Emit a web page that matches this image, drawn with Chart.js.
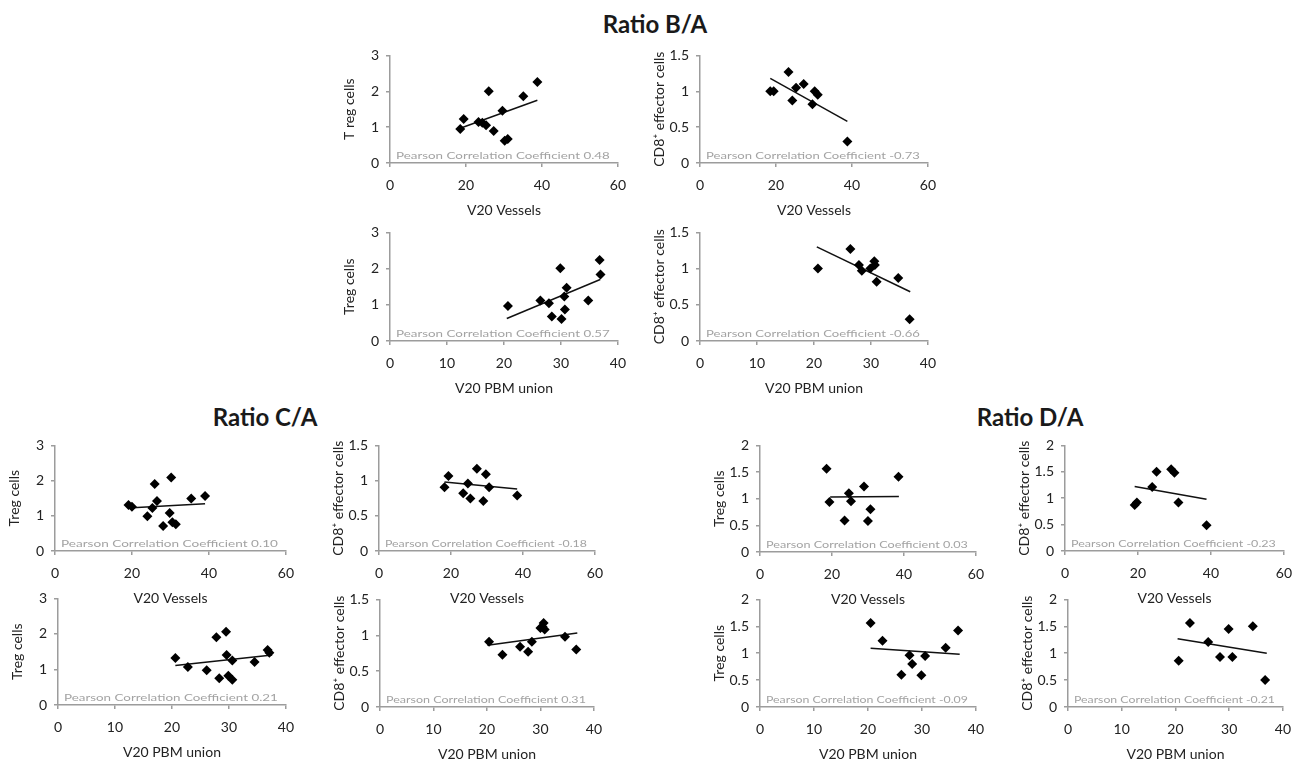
<!DOCTYPE html>
<html>
<head>
<meta charset="utf-8">
<script src="https://cdn.jsdelivr.net/npm/chart.js@4.4.1/dist/chart.umd.min.js"></script>
<style>
  body { margin: 0; background: #fff; width: 1307px; height: 762px; position: relative; overflow: hidden; }
  canvas { position: absolute; }
  .ttl { position: absolute; font: bold 24px Lato, sans-serif; color: #1a1a1a; transform: translate(-50%, -50%); white-space: nowrap; }
</style>
</head>
<body>
<div class="ttl" style="left:655px;top:23px">Ratio B/A</div>
<div class="ttl" style="left:265px;top:416px">Ratio C/A</div>
<div class="ttl" style="left:1030px;top:416px">Ratio D/A</div>
<script>
// axis ticks
const vesselTicks = [0, 20, 40, 60];
const pbmTicks = [0, 10, 20, 30, 40];
const treg3Ticks = [0, 1, 2, 3];
const treg3Labels = ['0', '1', '2', '3'];
const cd8Ticks = [0, 0.5, 1, 1.5];
const cd8Labels = ['0', '0.5', '1', '1.5'];
const d2Ticks = [0, 0.5, 1, 1.5, 2];
const d2Labels = ['0', '0.5', '1', '1.5', '2'];

// Ratio B/A
const baTregVesX = [18.5, 19.4, 23.3, 24.3, 25.3, 26.0, 27.3, 29.6, 30.2, 31.0, 35.1, 38.8];
const baTregVesY = [0.95, 1.23, 1.14, 1.12, 1.05, 2.0, 0.89, 1.46, 0.62, 0.67, 1.86, 2.26];
const baTregVesFit = [18.5, 0.97, 38.8, 1.75];
const baCd8VesX = [18.5, 19.4, 23.3, 24.3, 25.3, 27.3, 29.6, 30.2, 31.0, 38.8];
const baCd8VesY = [1.0, 1.0, 1.27, 0.87, 1.05, 1.1, 0.82, 1.0, 0.95, 0.3];
const baCd8VesFit = [18.5, 1.18, 38.8, 0.58];
const baTregPbmX = [20.7, 26.4, 27.9, 28.4, 29.9, 30.1, 30.6, 30.7, 31.0, 34.8, 36.8, 36.95];
const baTregPbmY = [0.97, 1.12, 1.04, 0.68, 2.01, 0.61, 1.23, 0.87, 1.47, 1.12, 2.24, 1.84];
const baTregPbmFit = [20.5, 0.62, 36.9, 1.7];
const baCd8PbmX = [20.7, 26.4, 27.9, 28.4, 29.9, 30.6, 30.7, 31.0, 34.8, 36.8];
const baCd8PbmY = [1.0, 1.27, 1.05, 0.97, 1.0, 1.1, 1.05, 0.82, 0.87, 0.3];
const baCd8PbmFit = [20.5, 1.3, 36.9, 0.68];

// Ratio C/A
const caTregVesX = [19.1, 20.0, 24.0, 25.3, 25.9, 26.5, 28.1, 29.8, 30.2, 30.5, 31.4, 35.4, 39.0];
const caTregVesY = [1.31, 1.26, 0.99, 1.22, 1.9, 1.42, 0.71, 1.08, 2.09, 0.82, 0.76, 1.49, 1.56];
const caTregVesFit = [19, 1.22, 39, 1.34];
const caCd8VesX = [18.2, 19.3, 23.4, 24.7, 25.4, 27.2, 29.0, 29.7, 30.6, 38.4];
const caCd8VesY = [0.905, 1.065, 0.82, 0.96, 0.745, 1.17, 0.71, 1.09, 0.905, 0.79];
const caCd8VesFit = [18.2, 0.98, 38.4, 0.88];
const caTregPbmX = [20.6, 22.8, 26.1, 27.8, 28.3, 29.5, 29.6, 29.9, 30.6, 30.6, 34.5, 36.8, 37.1];
const caTregPbmY = [1.32, 1.07, 0.98, 1.91, 0.75, 2.06, 1.41, 0.82, 0.71, 1.25, 1.21, 1.55, 1.47];
const caTregPbmFit = [20.6, 1.11, 37.6, 1.41];
const caCd8PbmX = [20.4, 22.9, 26.2, 27.7, 28.4, 30.0, 30.4, 30.6, 30.8, 34.6, 36.7];
const caCd8PbmY = [0.91, 0.73, 0.84, 0.77, 0.91, 1.10, 1.12, 1.17, 1.08, 0.98, 0.80];
const caCd8PbmFit = [20.1, 0.86, 36.9, 1.03];

// Ratio D/A
const daTregVesX = [18.5, 19.3, 23.5, 24.7, 25.3, 28.9, 30.0, 30.7, 38.5];
const daTregVesY = [1.56, 0.94, 0.59, 1.10, 0.95, 1.23, 0.58, 0.80, 1.41];
const daTregVesFit = [19.5, 1.03, 38.6, 1.04];
const daCd8VesX = [19.1, 19.7, 23.9, 25.1, 29.1, 30.0, 31.1, 38.8];
const daCd8VesY = [0.87, 0.92, 1.21, 1.50, 1.55, 1.48, 0.92, 0.49];
const daCd8VesFit = [19.1, 1.22, 38.8, 0.98];
const daTregPbmX = [20.5, 22.7, 26.2, 27.7, 28.2, 29.9, 30.6, 34.4, 36.7];
const daTregPbmY = [1.56, 1.23, 0.60, 0.96, 0.80, 0.59, 0.95, 1.10, 1.42];
const daTregPbmFit = [20.5, 1.09, 37.0, 0.98];
const daCd8PbmX = [20.6, 22.7, 26.1, 28.3, 29.9, 30.6, 34.4, 36.7];
const daCd8PbmY = [0.86, 1.56, 1.21, 0.93, 1.45, 0.93, 1.50, 0.50];
const daCd8PbmFit = [20.4, 1.27, 37.0, 1.0];

const axisGrey = '#9c9c9c';
const textDark = '#222';

const pearsonLabel = {
  id: 'pearson',
  beforeDatasetsDraw(chart, args, opts) {
    const { ctx, chartArea: a } = chart;
    ctx.save();
    ctx.font = '10px Lato, sans-serif';
    ctx.fillStyle = '#a3a3a3';
    ctx.textBaseline = 'middle';
    const w = ctx.measureText(opts.text).width;
    const target = a.right - a.left - 14;
    ctx.translate(a.left + 6, a.bottom - 7);
    ctx.scale(target / w, 1);
    ctx.fillText(opts.text, 0, 0);
    ctx.restore();
  }
};

function panel(box, xs, ys, fit, xTicks, yTicks, yLabels, xTitle, yTitle, r) {
  const [L, T, R, B] = box;
  const cv = document.createElement('canvas');
  cv.width = R - L + 55 + 14;
  cv.height = B - T + 12 + 56;
  cv.style.left = (L - 55) + 'px';
  cv.style.top = (T - 12) + 'px';
  document.body.appendChild(cv);

  const axisFont = { family: 'Lato, sans-serif', size: 14 };
  const titleFont = { family: 'Lato, sans-serif', size: 14 };

  new Chart(cv, {
    type: 'scatter',
    data: {
      datasets: [
        {
          data: xs.map((v, i) => ({ x: v, y: ys[i] })),
          pointStyle: 'rectRot',
          radius: 5,
          backgroundColor: '#000',
          borderWidth: 0
        },
        {
          type: 'line',
          data: [{ x: fit[0], y: fit[1] }, { x: fit[2], y: fit[3] }],
          borderColor: '#111',
          borderWidth: 1.5,
          pointRadius: 0
        }
      ]
    },
    options: {
      responsive: false,
      animation: false,
      devicePixelRatio: 1,
      layout: { padding: { top: 12, right: 14, left: 0, bottom: 0 } },
      plugins: {
        legend: { display: false },
        tooltip: { enabled: false },
        pearson: { text: 'Pearson Correlation Coefficient ' + r }
      },
      scales: {
        x: {
          type: 'linear',
          min: 0,
          max: xTicks[xTicks.length - 1],
          afterBuildTicks: s => { s.ticks = xTicks.map(v => ({ value: v })); },
          afterFit: s => { s.height = 56; },
          border: { color: axisGrey, width: 1.5 },
          grid: { drawOnChartArea: false, color: axisGrey, lineWidth: 1.5, tickLength: 4 },
          ticks: { color: textDark, font: axisFont, padding: 10, maxRotation: 0, autoSkip: false },
          title: { display: true, text: xTitle, color: textDark, font: titleFont, padding: { top: 0, bottom: 0 } }
        },
        y: {
          type: 'linear',
          min: 0,
          max: yTicks[yTicks.length - 1],
          afterBuildTicks: s => { s.ticks = yTicks.map(v => ({ value: v })); },
          afterFit: s => { s.width = 55; },
          border: { color: axisGrey, width: 1.5 },
          grid: { drawOnChartArea: false, color: axisGrey, lineWidth: 1.5, tickLength: 4 },
          ticks: { color: textDark, font: axisFont, padding: 7, autoSkip: false,
                   callback: v => yLabels[yTicks.indexOf(v)] },
          title: { display: true, text: yTitle, color: textDark, font: titleFont, padding: { top: 6, bottom: 0 } }
        }
      }
    },
    plugins: [pearsonLabel]
  });
}

const cd8Title = 'CD8\u207A effector cells';

panel([390, 52, 622, 163], baTregVesX, baTregVesY, baTregVesFit, vesselTicks, treg3Ticks, treg3Labels, 'V20 Vessels', 'T reg cells', '0.48');
panel([700, 52, 932, 163], baCd8VesX, baCd8VesY, baCd8VesFit, vesselTicks, cd8Ticks, cd8Labels, 'V20 Vessels', cd8Title, '-0.73');
panel([390, 229, 622, 341], baTregPbmX, baTregPbmY, baTregPbmFit, pbmTicks, treg3Ticks, treg3Labels, 'V20 PBM union', 'Treg cells', '0.57');
panel([700, 229, 932, 341], baCd8PbmX, baCd8PbmY, baCd8PbmFit, pbmTicks, cd8Ticks, cd8Labels, 'V20 PBM union', cd8Title, '-0.66');

panel([55, 442, 290, 551], caTregVesX, caTregVesY, caTregVesFit, vesselTicks, treg3Ticks, treg3Labels, 'V20 Vessels', 'Treg cells', '0.10');
panel([379, 442, 599, 551], caCd8VesX, caCd8VesY, caCd8VesFit, vesselTicks, cd8Ticks, cd8Labels, 'V20 Vessels', cd8Title, '-0.18');
panel([58, 595, 290, 705], caTregPbmX, caTregPbmY, caTregPbmFit, pbmTicks, treg3Ticks, treg3Labels, 'V20 PBM union', 'Treg cells', '0.21');
panel([380, 596, 598, 707], caCd8PbmX, caCd8PbmY, caCd8PbmFit, pbmTicks, cd8Ticks, cd8Labels, 'V20 PBM union', cd8Title, '0.31');

panel([760, 442, 980, 552], daTregVesX, daTregVesY, daTregVesFit, vesselTicks, d2Ticks, d2Labels, 'V20 Vessels', 'Treg cells', '0.03');
panel([1065, 442, 1288, 551], daCd8VesX, daCd8VesY, daCd8VesFit, vesselTicks, d2Ticks, d2Labels, 'V20 Vessels', cd8Title, '-0.23');
panel([760, 596, 980, 707], daTregPbmX, daTregPbmY, daTregPbmFit, pbmTicks, d2Ticks, d2Labels, 'V20 PBM union', 'Treg cells', '-0.09');
panel([1068, 596, 1287, 707], daCd8PbmX, daCd8PbmY, daCd8PbmFit, pbmTicks, d2Ticks, d2Labels, 'V20 PBM union', cd8Title, '-0.21');
</script>
</body>
</html>
